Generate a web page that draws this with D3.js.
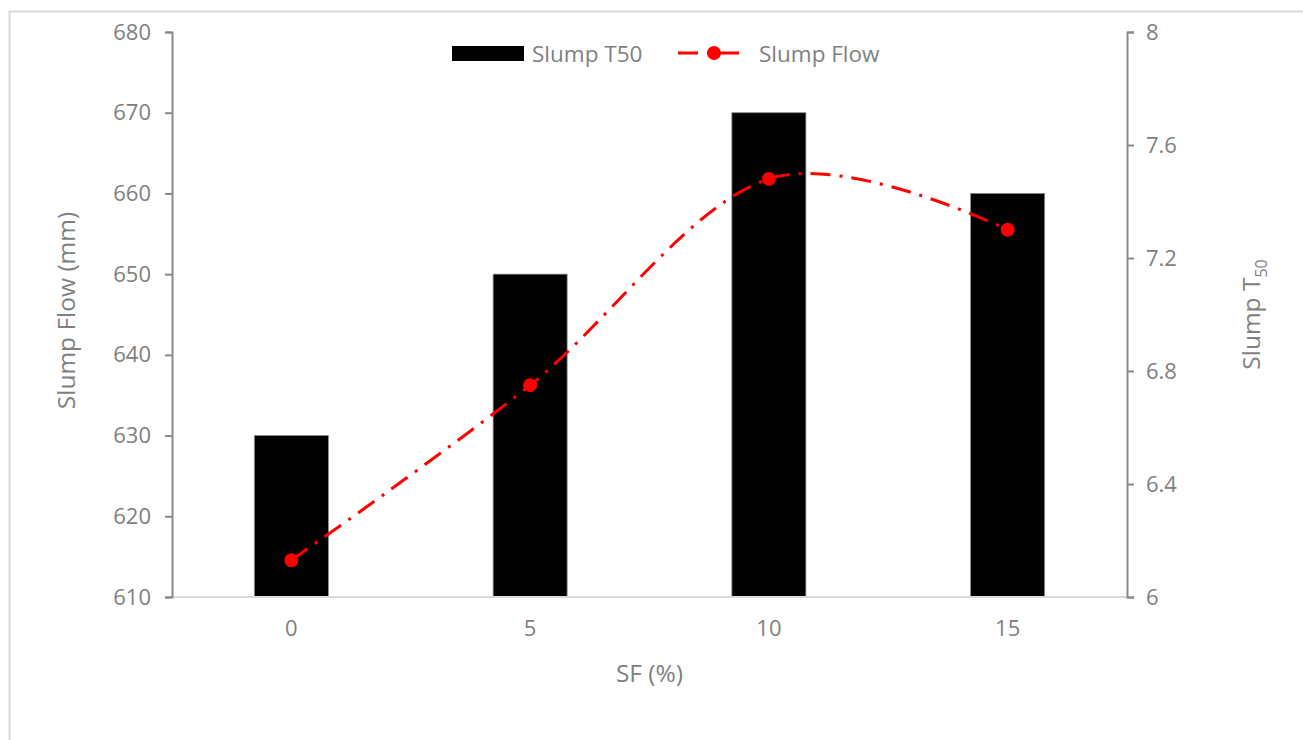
<!DOCTYPE html>
<html>
<head>
<meta charset="utf-8">
<script src="https://cdn.jsdelivr.net/npm/d3@7"></script>
<style>
  body { margin: 0; background: #fff; }
  text { font-family: "Open Sans", sans-serif; fill: #808080; }
</style>
</head>
<body>
<script>
// data
var categories = ["0", "5", "10", "15"];
var barValues = [630, 650, 670, 660];        // drawn on the left axis
var lineValues = [6.13, 6.75, 7.48, 7.30];   // drawn on the right axis
var leftTicks = [610, 620, 630, 640, 650, 660, 670, 680];
var rightTicks = [6, 6.4, 6.8, 7.2, 7.6, 8];

var margin = { left: 172, right: 176, top: 32, bottom: 143 };
var width = 1303 - margin.left - margin.right;
var height = 740 - margin.top - margin.bottom;

var root = d3.select("body").append("svg")
    .attr("width", 1303)
    .attr("height", 740);

// chart area border
root.append("rect")
    .attr("x", 9.5).attr("y", 11.5)
    .attr("width", 1400).attr("height", 800)
    .attr("fill", "none")
    .attr("stroke", "#d9d9d9")
    .attr("stroke-width", 2);

var svg = root.append("g")
    .attr("transform", `translate(${margin.left}, ${margin.top})`);

var x = d3.scaleBand()
    .domain(categories)
    .range([0, width]);

var yLeft = d3.scaleLinear().domain([610, 680]).range([height, 0]);
var yRight = d3.scaleLinear().domain([6, 8]).range([height, 0]);

var barW = x.bandwidth() * 0.31;

// bars
svg.selectAll("rect.bar")
    .data(barValues)
    .enter()
    .append("rect")
    .attr("class", "bar")
    .attr("x", (d, i) => x(categories[i]) + x.bandwidth() / 2 - barW / 2)
    .attr("y", d => yLeft(d))
    .attr("width", barW)
    .attr("height", d => height - yLeft(d))
    .attr("fill", "#000")
    .attr("stroke", "#8a8a8a")
    .attr("stroke-width", 0.8);

// x baseline
svg.append("line")
    .attr("x1", 0).attr("x2", width)
    .attr("y1", height).attr("y2", height)
    .attr("stroke", "#d9d9d9")
    .attr("stroke-width", 2);

// left axis
var leftAxis = svg.append("g")
    .call(d3.axisLeft(yLeft).tickValues(leftTicks).tickSize(7).tickSizeOuter(7).tickPadding(14));
leftAxis.select(".domain").attr("stroke", "#8a8a8a").attr("stroke-width", 2);
leftAxis.selectAll(".tick line").attr("stroke", "#8a8a8a").attr("stroke-width", 2);
leftAxis.selectAll("text").style("font-size", "22px").attr("fill", "#808080");

// right axis
var rightAxis = svg.append("g")
    .attr("transform", `translate(${width}, 0)`)
    .call(d3.axisRight(yRight).tickValues(rightTicks).tickFormat(d3.format("")).tickSize(7).tickSizeOuter(7).tickPadding(12));
rightAxis.select(".domain").attr("stroke", "#8a8a8a").attr("stroke-width", 2);
rightAxis.selectAll(".tick line").attr("stroke", "#8a8a8a").attr("stroke-width", 2);
rightAxis.selectAll("text").style("font-size", "22px").attr("fill", "#808080");

// x labels
var xAxis = svg.append("g")
    .attr("transform", `translate(0, ${height})`)
    .call(d3.axisBottom(x).tickSize(0).tickPadding(23));
xAxis.select(".domain").remove();
xAxis.selectAll("text").style("font-size", "22px").attr("fill", "#808080");

// smoothed line
var line = d3.line()
    .x((d, i) => x(categories[i]) + x.bandwidth() / 2)
    .y(d => yRight(d))
    .curve(d3.curveCardinal.tension(0));

svg.append("path")
    .datum(lineValues)
    .attr("d", line)
    .attr("fill", "none")
    .attr("stroke", "#ff0000")
    .attr("stroke-width", 3)
    .attr("stroke-dasharray", "20,9,3,9");

svg.selectAll("circle.pt")
    .data(lineValues)
    .enter()
    .append("circle")
    .attr("class", "pt")
    .attr("cx", (d, i) => x(categories[i]) + x.bandwidth() / 2)
    .attr("cy", d => yRight(d))
    .attr("r", 7)
    .attr("fill", "#ff0000");

// axis titles
svg.append("text")
    .attr("transform", `translate(${65 - margin.left}, ${height / 2 - 4}) rotate(-90)`)
    .attr("text-anchor", "middle")
    .attr("dominant-baseline", "central")
    .style("font-size", "24.5px")
    .text("Slump Flow (mm)");

var rt = svg.append("text")
    .attr("transform", `translate(${1250 - margin.left}, ${height / 2}) rotate(-90)`)
    .attr("text-anchor", "middle")
    .attr("dominant-baseline", "central")
    .style("font-size", "24.5px");
rt.append("tspan").text("Slump T");
rt.append("tspan").attr("baseline-shift", "sub").style("font-size", "16px").text("50");

svg.append("text")
    .attr("x", width / 2)
    .attr("y", 672 - margin.top)
    .attr("text-anchor", "middle")
    .attr("dominant-baseline", "central")
    .style("font-size", "24.5px")
    .text("SF (%)");

// legend
var legend = root.append("g");
legend.append("rect")
    .attr("x", 452).attr("y", 46)
    .attr("width", 72).attr("height", 15)
    .attr("fill", "#000");
legend.append("text")
    .attr("x", 532).attr("y", 53)
    .attr("dominant-baseline", "central")
    .style("font-size", "22.5px")
    .text("Slump T50");
legend.append("line")
    .attr("x1", 678).attr("x2", 743)
    .attr("y1", 53).attr("y2", 53)
    .attr("stroke", "#ff0000")
    .attr("stroke-width", 3)
    .attr("stroke-dasharray", "20,9,3,9");
legend.append("circle")
    .attr("cx", 714).attr("cy", 53).attr("r", 7)
    .attr("fill", "#ff0000");
legend.append("text")
    .attr("x", 759).attr("y", 53)
    .attr("dominant-baseline", "central")
    .style("font-size", "22.5px")
    .text("Slump Flow");
</script>
</body>
</html>
